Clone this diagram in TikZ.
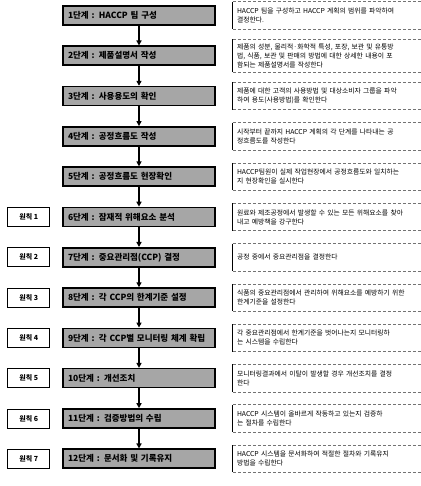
\documentclass[tikz,border=0pt]{standalone}
\usepackage{fontspec}
\setmainfont{Noto Sans CJK KR}
\usetikzlibrary{arrows.meta,positioning}

\begin{document}
\begin{tikzpicture}[
  stepbox/.style={draw, line width=1.6pt, fill=black!35, minimum height=19pt, text width=142pt, inner xsep=5pt, inner ysep=2pt, align=left, font=\fontsize{8.5}{10}\selectfont\bfseries},
  principle/.style={draw, line width=0.9pt, fill=white, minimum width=42pt, minimum height=19pt, inner sep=1pt, font=\fontsize{7}{8}\selectfont\bfseries},
  desc/.style={text width=180pt, inner xsep=4pt, inner ysep=4pt, minimum height=27pt, align=left, font=\fontsize{6.8}{9}\selectfont},
  flow/.style={-{Triangle[length=5pt,width=5pt]}, line width=1.3pt},
  rim/.style={draw=black!55, densely dashed, line width=0.6pt}]
\useasboundingbox (0pt,0pt) rectangle (420pt,486pt);
% twelve steps
\node[stepbox] (s1) at (139pt,470.5pt) {1단계 : HACCP 팀 구성};
\node[stepbox, below=19.7pt of s1] (s2) {2단계 : 제품설명서 작성};
\node[stepbox, below=19.7pt of s2] (s3) {3단계 : 사용용도의 확인};
\node[stepbox, below=19.7pt of s3] (s4) {4단계 : 공정흐름도 작성};
\node[stepbox, below=19.7pt of s4] (s5) {5단계 : 공정흐름도 현장확인};
\node[stepbox, below=19.7pt of s5] (s6) {6단계 : 잠재적 위해요소 분석};
\node[stepbox, below=19.7pt of s6] (s7) {7단계 : 중요관리점(CCP) 결정};
\node[stepbox, below=19.7pt of s7] (s8) {8단계 : 각 CCP의 한계기준 설정};
\node[stepbox, below=19.7pt of s8] (s9) {9단계 : 각 CCP별 모니터링 체계 확립};
\node[stepbox, below=19.7pt of s9] (s10) {10단계 : 개선조치};
\node[stepbox, below=19.7pt of s10] (s11) {11단계 : 검증방법의 수립};
\node[stepbox, below=19.7pt of s11] (s12) {12단계 : 문서화 및 기록유지};
% seven principles
\node[principle, left=12pt of s6] (p1) {원칙 1};
\node[principle, left=12pt of s7] (p2) {원칙 2};
\node[principle, left=12pt of s8] (p3) {원칙 3};
\node[principle, left=12pt of s9] (p4) {원칙 4};
\node[principle, left=12pt of s10] (p5) {원칙 5};
\node[principle, left=12pt of s11] (p6) {원칙 6};
\node[principle, left=12pt of s12] (p7) {원칙 7};
% descriptions
\node[desc, right=17pt of s1] (d1) {HACCP 팀을 구성하고 HACCP 계획의 범위를 파악하여\\결정한다.};
\node[desc, right=17pt of s2] (d2) {제품의 성분, 물리적·화학적 특성, 포장, 보관 및 유통방\\법, 식품, 보관 및 판매의 방법에 대한 상세한 내용이 포\\함되는 제품설명서를 작성한다};
\node[desc, right=17pt of s3] (d3) {제품에 대한 고객의 사용방법 및 대상소비자 그룹을 파악\\하여 용도(사용방법)를 확인한다};
\node[desc, right=17pt of s4] (d4) {시작부터 끝까지 HACCP 계획의 각 단계를 나타내는 공\\정흐름도를 작성한다};
\node[desc, right=17pt of s5] (d5) {HACCP팀원이 실제 작업현장에서 공정흐름도와 일치하는\\지 현장확인을 실시한다};
\node[desc, right=17pt of s6] (d6) {원료와 제조공정에서 발생할 수 있는 모든 위해요소를 찾아\\내고 예방책을 강구한다};
\node[desc, right=17pt of s7] (d7) {공정 중에서 중요관리점을 결정한다};
\node[desc, right=17pt of s8] (d8) {식품의 중요관리점에서 관리하여 위해요소를 예방하기 위한\\한계기준을 설정한다};
\node[desc, right=17pt of s9] (d9) {각 중요관리점에서 한계기준을 벗어나는지 모니터링하\\는 시스템을 수립한다};
\node[desc, right=17pt of s10] (d10) {모니터링결과에서 이탈이 발생할 경우 개선조치를 결정\\한다};
\node[desc, right=17pt of s11] (d11) {HACCP 시스템이 올바르게 작동하고 있는지 검증하\\는 절차를 수립한다};
\node[desc, right=17pt of s12] (d12) {HACCP 시스템을 문서화하여 적절한 절차와 기록유지\\방법을 수립한다};
\foreach \i [count=\j from 2] in {1,...,11}
  \draw[flow] (s\i) -- (s\j);
\foreach \i in {1,...,12} {
  \draw[rim] (d\i.north west) -- (d\i.north east) (d\i.south west) -- (d\i.south east);
  \draw[line width=0.9pt] (d\i.north west) -- (d\i.south west);
}
\end{tikzpicture}
\end{document}
